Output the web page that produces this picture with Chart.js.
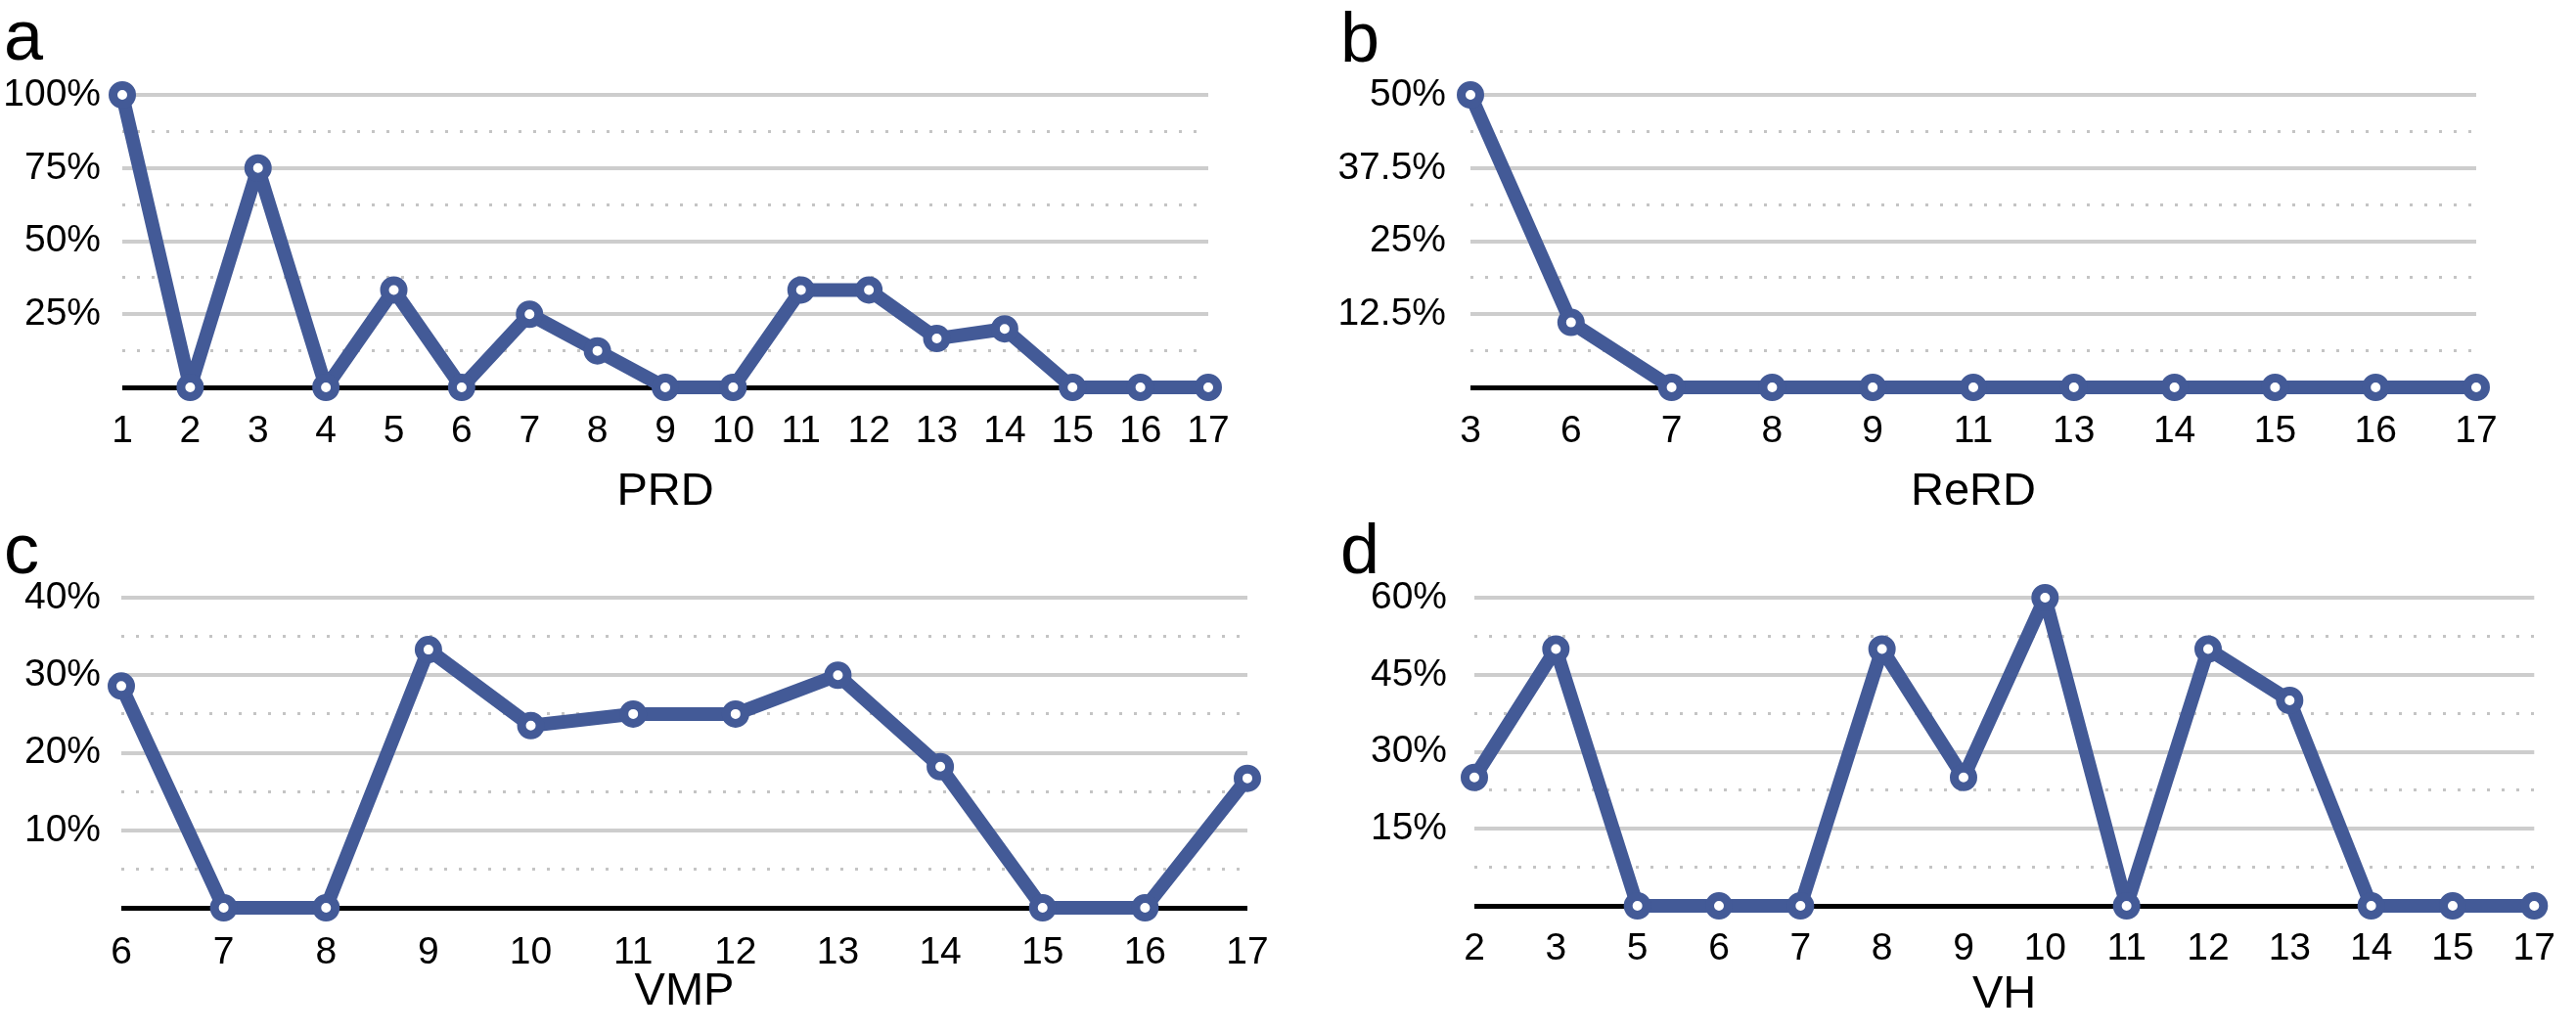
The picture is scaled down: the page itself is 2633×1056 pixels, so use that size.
<!DOCTYPE html>
<html>
<head>
<meta charset="utf-8">
<script src="https://cdn.jsdelivr.net/npm/chart.js@4"></script>
<style>
  body { margin: 0; background: #fff; }
  .panel { position: absolute; }
  .tag { position: absolute; font-family: "Liberation Sans", Arial, sans-serif; font-size: 72px; line-height: 72px; color: #000; }
</style>
</head>
<body>
<div class="panel" style="left:0;top:0;width:1320px;height:540px"><canvas id="chartA"></canvas></div>
<div class="panel" style="left:1320px;top:0;width:1313px;height:540px"><canvas id="chartB"></canvas></div>
<div class="panel" style="left:0;top:540px;width:1320px;height:516px"><canvas id="chartC"></canvas></div>
<div class="panel" style="left:1320px;top:540px;width:1313px;height:516px"><canvas id="chartD"></canvas></div>
<div class="tag" style="left:4px;top:0px">a</div>
<div class="tag" style="left:1370px;top:2px">b</div>
<div class="tag" style="left:4px;top:525px">c</div>
<div class="tag" style="left:1370px;top:525px">d</div>
<script>
  const prdLabels = ['1', '2', '3', '4', '5', '6', '7', '8', '9', '10', '11', '12', '13', '14', '15', '16', '17'];
  const prdValues = [100, 0, 75, 0, 33.3, 0, 25, 12.5, 0, 0, 33.3, 33.3, 16.7, 20, 0, 0, 0];
  const prdTicks = [25, 50, 75, 100];

  const rerdLabels = ['3', '6', '7', '8', '9', '11', '13', '14', '15', '16', '17'];
  const rerdValues = [50, 11.1, 0, 0, 0, 0, 0, 0, 0, 0, 0];
  const rerdTicks = [12.5, 25, 37.5, 50];

  const vmpLabels = ['6', '7', '8', '9', '10', '11', '12', '13', '14', '15', '16', '17'];
  const vmpValues = [28.6, 0, 0, 33.3, 23.5, 25, 25, 30, 18.2, 0, 0, 16.7];
  const vmpTicks = [10, 20, 30, 40];

  const vhLabels = ['2', '3', '5', '6', '7', '8', '9', '10', '11', '12', '13', '14', '15', '17'];
  const vhValues = [25, 50, 0, 0, 0, 50, 25, 60, 0, 50, 40, 0, 0, 0];
  const vhTicks = [15, 30, 45, 60];

  const blue = '#435a97';
  Chart.defaults.font.family = '"Liberation Sans", Arial, sans-serif';
  Chart.defaults.color = '#000';

  // box = sizes of the axis boxes so the plot areas line up with the picture
  function makeChart(id, labels, values, ticks, title, box) {
    const major = ticks[0];
    const isMajor = (v) => Math.abs(v / major - Math.round(v / major)) < 1e-6;
    return new Chart(document.getElementById(id), {
      type: 'line',
      data: {
        labels: labels,
        datasets: [{
          data: values,
          borderColor: blue,
          borderWidth: 14,
          borderJoinStyle: 'round',
          tension: 0,
          pointRadius: 9.5,
          pointBorderWidth: 9,
          pointBorderColor: blue,
          pointBackgroundColor: '#fff',
          clip: false,
        }]
      },
      options: {
        responsive: true,
        maintainAspectRatio: false,
        animation: false,
        layout: { padding: { top: box.top, right: box.right, left: 0, bottom: 0 } },
        plugins: { legend: { display: false }, tooltip: { enabled: false } },
        scales: {
          x: {
            grid: { display: false, drawTicks: false },
            border: { display: false },
            ticks: { font: { size: 39 }, padding: box.xPad, autoSkip: false, maxRotation: 0 },
            title: { display: true, text: title, font: { size: 47 }, padding: { top: 0, bottom: box.titlePad } },
            afterFit: (s) => { s.height = box.xHeight; },
          },
          y: {
            min: 0,
            max: ticks[ticks.length - 1],
            grid: {
              drawTicks: false,
              color: (c) => c.tick.value === 0 ? '#000' : (isMajor(c.tick.value) ? '#cdcdcd' : '#c4c4c4'),
              lineWidth: (c) => c.tick.value === 0 ? 5 : (isMajor(c.tick.value) ? 4 : 3),
            },
            border: {
              display: false,
              dash: (c) => (c.tick && c.tick.value !== 0 && !isMajor(c.tick.value)) ? [3, 12] : [],
            },
            ticks: {
              stepSize: major / 2,
              autoSkip: false,
              padding: box.yPad,
              font: { size: 39 },
              callback: (v) => (v !== 0 && ticks.some((t) => Math.abs(t - v) < 1e-6)) ? v + '%' : '',
            },
            afterFit: (s) => { s.width = box.yWidth; },
          }
        }
      }
    });
  }

  makeChart('chartA', prdLabels, prdValues, prdTicks, 'PRD',
    { top: 97, right: 85, yWidth: 125, yPad: 22, xHeight: 144, xPad: 22, titlePad: 9 });
  makeChart('chartB', rerdLabels, rerdValues, rerdTicks, 'ReRD',
    { top: 97, right: 102, yWidth: 183, yPad: 25, xHeight: 144, xPad: 22, titlePad: 9 });
  makeChart('chartC', vmpLabels, vmpValues, vmpTicks, 'VMP',
    { top: 71, right: 45, yWidth: 124, yPad: 21, xHeight: 128, xPad: 23, titlePad: 14 });
  makeChart('chartD', vhLabels, vhValues, vhTicks, 'VH',
    { top: 71, right: 22, yWidth: 187, yPad: 28, xHeight: 130, xPad: 21, titlePad: 11 });
</script>
</body>
</html>
